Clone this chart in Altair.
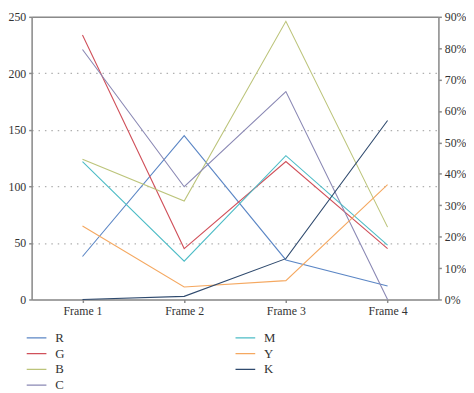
import altair as alt
import pandas as pd

frames = ["Frame 1", "Frame 2", "Frame 3", "Frame 4"]

# RGB channels (left axis, 0-250)
R = [38, 145, 35, 12]
G = [234, 45, 122, 45]
B = [124, 87, 246, 64]

# CMYK channels (right axis, percent)
C = [0.796, 0.359, 0.662, 0.0]
M = [0.439, 0.122, 0.458, 0.173]
Y = [0.234, 0.040, 0.060, 0.366]
K = [0.0, 0.010, 0.130, 0.570]

legend_order = ["R", "G", "B", "C", "M", "Y", "K"]
colors = ["#5b86c5", "#d0505a", "#bcc47a", "#8a88b4", "#4cbcc6", "#f5a860", "#2f4a6e"]

rgb = pd.DataFrame(
    [(f, s, v) for s, vals in (("R", R), ("G", G), ("B", B)) for f, v in zip(frames, vals)],
    columns=["frame", "series", "value"],
)
cmyk = pd.DataFrame(
    [(f, s, v) for s, vals in (("C", C), ("M", M), ("Y", Y), ("K", K)) for f, v in zip(frames, vals)],
    columns=["frame", "series", "value"],
)

FONT = "Liberation Serif"
AX = "#8a8a8a"
TXT = "#333333"

color = alt.Color(
    "series:N",
    scale=alt.Scale(domain=legend_order, range=colors),
    legend=alt.Legend(
        title=None,
        orient="none",
        legendX=-6,
        legendY=318,
        columns=2,
        columnPadding=172,
        rowPadding=0,
        symbolType="stroke",
        symbolSize=400,
        symbolStrokeWidth=1.2,
        clipHeight=16,
        labelOffset=8,
        labelFont=FONT,
        labelFontSize=13,
        labelColor=TXT,
    ),
)

x_bottom = alt.X(
    "frame:N",
    sort=frames,
    scale=alt.Scale(padding=0.5),
    axis=alt.Axis(
        title=None,
        labelAngle=0,
        labelFont=FONT,
        labelFontSize=12,
        labelColor=TXT,
        tickSize=3,
        tickColor=AX,
        tickWidth=1.5,
        domainColor=AX,
        domainWidth=1.5,
        labelPadding=3,
        grid=False,
    ),
)

x_top = alt.X(
    "frame:N",
    sort=frames,
    scale=alt.Scale(padding=0.5),
    axis=alt.Axis(
        title=None,
        orient="top",
        labels=False,
        ticks=False,
        domainColor=AX,
        domainWidth=1.5,
        grid=False,
    ),
)

left = alt.Chart(rgb).mark_line(strokeWidth=1.1).encode(
    x=x_bottom,
    y=alt.Y(
        "value:Q",
        scale=alt.Scale(domain=[0, 250], nice=False),
        axis=alt.Axis(
            title=None,
            values=[0, 50, 100, 150, 200, 250],
            labelFont=FONT,
            labelFontSize=12,
            labelColor=TXT,
            tickSize=3,
            tickColor=AX,
            tickWidth=1.5,
            domainColor=AX,
            domainWidth=1.5,
            labelPadding=3,
            grid=True,
            gridColor="#b0b0b0",
            gridDash=[1.5, 5],
            gridWidth=1.2,
            gridOpacity={
                "condition": {"test": "datum.value >= 250 || datum.value <= 0", "value": 0},
                "value": 1,
            },
        ),
    ),
    color=color,
)

right = alt.Chart(cmyk).mark_line(strokeWidth=1.1).encode(
    x=x_top,
    y=alt.Y(
        "value:Q",
        scale=alt.Scale(domain=[0, 0.9], nice=False),
        axis=alt.Axis(
            title=None,
            orient="right",
            values=[0, 0.1, 0.2, 0.3, 0.4, 0.5, 0.6, 0.7, 0.8, 0.9],
            format=".0%",
            labelFont=FONT,
            labelFontSize=12,
            labelColor=TXT,
            tickSize=3,
            tickColor=AX,
            tickWidth=1.5,
            domainColor=AX,
            domainWidth=1.5,
            labelPadding=3,
            grid=False,
        ),
    ),
    color=color,
)

chart = (
    alt.layer(left, right)
    .resolve_scale(y="independent")
    .resolve_axis(x="independent")
    .properties(
        width=413,
        height=287,
        autosize=alt.AutoSizeParams(type="none"),
        padding={"left": 24, "top": 6, "right": 28, "bottom": 92},
    )
    .configure_view(stroke=None)
    .configure(background="white")
)

chart.save("out.html", embed_options={"renderer": "svg", "actions": False})
